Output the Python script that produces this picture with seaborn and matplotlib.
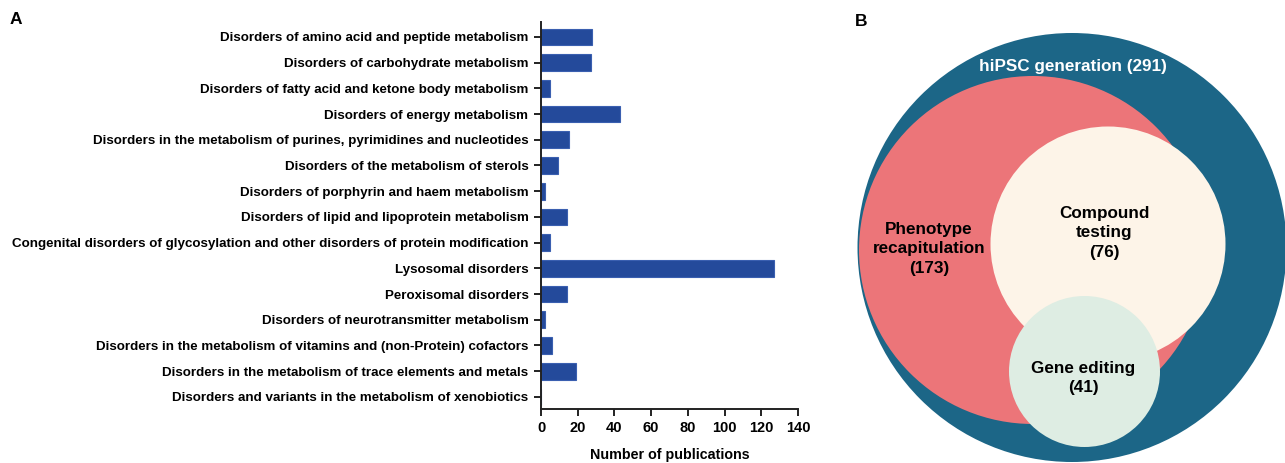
import matplotlib
matplotlib.use("Agg")
import matplotlib.pyplot as plt
import seaborn as sns
import pandas as pd
from matplotlib.patches import Circle

# Panel A data: publications per disorder group
categories = [
    "Disorders of amino acid and peptide metabolism",
    "Disorders of carbohydrate metabolism",
    "Disorders of fatty acid and ketone body metabolism",
    "Disorders of energy metabolism",
    "Disorders in the metabolism of purines, pyrimidines and nucleotides",
    "Disorders of the metabolism of sterols",
    "Disorders of porphyrin and haem metabolism",
    "Disorders of lipid and lipoprotein metabolism",
    "Congenital disorders of glycosylation and other disorders of protein modification",
    "Lysosomal disorders",
    "Peroxisomal disorders",
    "Disorders of neurotransmitter metabolism",
    "Disorders in the metabolism of vitamins and (non-Protein) cofactors",
    "Disorders in the metabolism of trace elements and metals",
    "Disorders and variants in the metabolism of xenobiotics",
]
publications = [28, 27, 5, 43, 15, 9, 2, 14, 5, 127, 14, 2, 6, 19, 0]
x_ticks = [0, 20, 40, 60, 80, 100, 120, 140]

# Panel B data: nested study sets
set_names = ["hiPSC generation", "Phenotype\nrecapitulation", "Compound\ntesting", "Gene editing"]
set_counts = [291, 173, 76, 41]

sns.set_style("ticks")
plt.rcParams['font.family'] = ['Liberation Sans', 'DejaVu Sans']
plt.rcParams['font.weight'] = 'bold'
plt.rcParams['text.color'] = 'black'
plt.rcParams['axes.labelcolor'] = 'black'
plt.rcParams['xtick.color'] = 'black'
plt.rcParams['ytick.color'] = 'black'

df = pd.DataFrame({"category": categories, "n": publications})

fig = plt.figure(figsize=(12.85, 4.63), dpi=100)
W, H = 1285, 463

# ---- panel A ----
ax = fig.add_axes([541 / W, 1 - 409 / H, 257 / W, (409 - 22) / H])
sns.barplot(data=df, x="n", y="category", color="#244a9b", edgecolor="#3a5fb0",
            linewidth=0.8, width=0.65, saturation=1, ax=ax)
ax.set_xlim(0, 140)
ax.set_ylim(14.47, -0.58)
ax.set_xticks(x_ticks)
ax.set_xticklabels([str(t) for t in x_ticks], fontsize=10.5, fontweight='bold')
ax.set_yticks(range(len(categories)))
ax.set_yticklabels(categories, fontsize=9.65, fontweight='bold')
ax.set_ylabel("")
ax.set_xlabel("Number of publications", fontsize=10.3, fontweight='bold', labelpad=9)
sns.despine(ax=ax)
for s in ["left", "bottom"]:
    ax.spines[s].set_linewidth(1.4)
    ax.spines[s].set_color("#222222")
ax.tick_params(axis="both", width=1.4, length=5, color="#222222", pad=4)
ax.grid(False)

fig.text(10 / W, 1 - 20 / H, "A", fontsize=12.5, fontweight='bold', va='center')
fig.text(855 / W, 1 - 22 / H, "B", fontsize=12.5, fontweight='bold', va='center')

# ---- panel B ----
axb = fig.add_axes([840 / W, 0, 445 / W, 1])
axb.set_xlim(840, 1285)
axb.set_ylim(463, 0)
axb.set_aspect('equal')
axb.axis('off')

# layout: centre x, centre y, radius (pixels), colour, label position, text colour
layout = [
    (1072, 247.5, 214.5, "#1c6687", (1073, 66), "white"),
    (1033, 250, 174, "#ec7579", (929, 249), "black"),
    (1108, 244, 117.5, "#fdf4e8", (1104, 233), "black"),
    (1084.5, 371.5, 75.5, "#deede3", (1083, 378), "black"),
]
for (cx, cy, r, col, (tx, ty), tc), name, cnt in zip(layout, set_names, set_counts):
    axb.add_patch(Circle((cx, cy), r, facecolor=col, edgecolor='none'))
    if "\n" in name or name == "Gene editing":
        label = f"{name}\n({cnt})"
    else:
        label = f"{name} ({cnt})"
    axb.text(tx, ty, label, ha='center', va='center', fontsize=12.3,
             fontweight='bold', color=tc, linespacing=1.35)

fig.savefig("out.png", dpi=100)
